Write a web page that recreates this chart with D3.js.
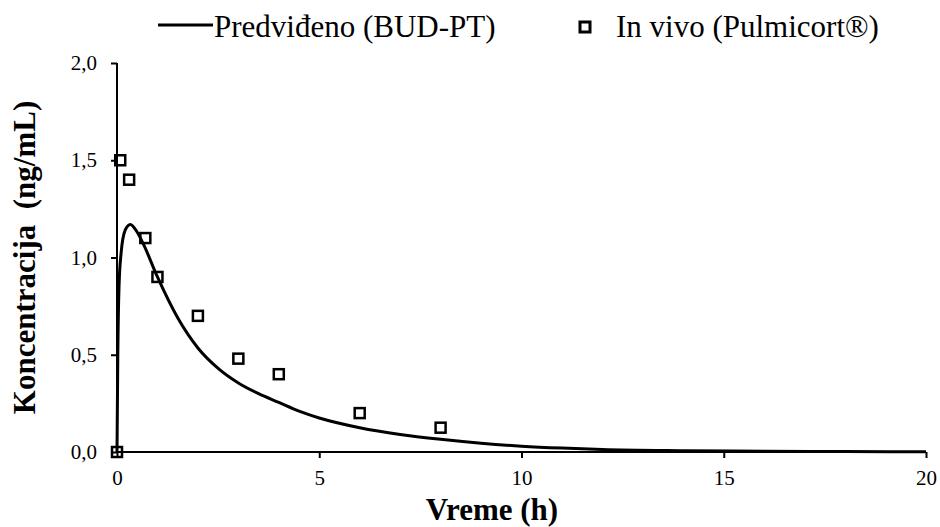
<!DOCTYPE html>
<html><head><meta charset="utf-8">
<script src="https://cdn.jsdelivr.net/npm/d3@7"></script>
<style>
html,body{margin:0;padding:0;background:#fff;font-family:'Liberation Serif',serif;}
</style></head>
<body>
<svg id="chart" width="940" height="527" style="font-family:'Liberation Serif',serif"></svg>
<script>
// Predicted curve (BUD-PT)
const curveTime = [0, 0.02, 0.05, 0.1, 0.2, 0.33, 0.5, 0.65, 1, 1.5, 2, 2.5, 3, 3.5, 4, 4.5, 5, 6, 7, 8, 9, 10, 11, 12, 14, 16, 18, 20];
const curveConc = [0, 0.5, 0.85, 1.02, 1.14, 1.17, 1.13, 1.07, 0.90, 0.69, 0.535, 0.43, 0.355, 0.30, 0.255, 0.21, 0.175, 0.125, 0.09, 0.065, 0.045, 0.03, 0.02, 0.013, 0.007, 0.004, 0.002, 0.001];
// In vivo (Pulmicort) observed points
const obsTime = [0, 0.08, 0.3, 0.7, 1, 2, 3, 4, 6, 8];
const obsConc = [0, 1.5, 1.4, 1.1, 0.9, 0.7, 0.48, 0.4, 0.2, 0.125];
// Ticks
const xTicks = [0, 5, 10, 15, 20];
const yTicks = [0, 0.5, 1.0, 1.5, 2.0];
const legendLabels = ["Predviđeno (BUD-PT)", "In vivo (Pulmicort®)"];
const xTitle = "Vreme (h)";
const yTitle = "Koncentracija  (ng/mL)";

(function () {
const FONT = "'Liberation Serif', 'DejaVu Serif', serif";
const svg = d3.select("#chart");
const mLeft = 117, mRight = 926, mTop = 63, mBottom = 452;
const x = d3.scaleLinear().domain([0, 20]).range([mLeft, mRight]);
const y = d3.scaleLinear().domain([0, 2]).range([mBottom, mTop]);

const fmt = d => d3.format(".1f")(d).replace(".", ",");

// Y axis
const yAxis = svg.append("g").attr("transform", `translate(${mLeft},0)`)
  .call(d3.axisLeft(y).tickValues(yTicks).tickFormat(fmt).tickSize(6).tickPadding(14));
// X axis
const xAxis = svg.append("g").attr("transform", `translate(0,${mBottom})`)
  .call(d3.axisBottom(x).tickValues(xTicks).tickFormat(d3.format("d")).tickSize(6).tickPadding(12));
[yAxis, xAxis].forEach(g => {
  g.attr("font-family", FONT).attr("font-size", 21);
  g.select(".domain").attr("stroke", "#000").attr("stroke-width", 2);
  g.selectAll(".tick line").attr("stroke", "#000").attr("stroke-width", 2);
  g.selectAll(".tick text").attr("fill", "#000").style("font-family", FONT).style("font-size", "21px");
});
yAxis.select(".domain").attr("d", `M0,${mBottom}V${mTop}`);
xAxis.select(".domain").attr("d", `M${mLeft},0H${mRight}`);

// Curve
const pts = curveTime.map((t, i) => [t, curveConc[i]]);
svg.append("path").datum(pts)
  .attr("fill", "none").attr("stroke", "#000").attr("stroke-width", 3)
  .attr("d", d3.line().x(d => x(d[0])).y(d => y(d[1])).curve(d3.curveMonotoneX));

// Observed squares
const sq = 10;
svg.append("g").selectAll("rect").data(obsTime.map((t, i) => [t, obsConc[i]]))
  .join("rect")
  .attr("x", d => x(d[0]) - sq / 2).attr("y", d => y(d[1]) - sq / 2)
  .attr("width", sq).attr("height", sq)
  .attr("fill", "none").attr("stroke", "#000").attr("stroke-width", 2.5);

// Axis titles
svg.append("text").attr("x", 492).attr("y", 520).attr("text-anchor", "middle")
  .style("font-family", FONT).style("font-weight", "bold").style("font-size", "31px").text(xTitle);
svg.append("text").attr("transform", `translate(35,${(mTop + mBottom) / 2}) rotate(-90)`)
  .attr("text-anchor", "middle").style("font-family", FONT).style("font-weight", "bold").style("font-size", "31px")
  .style("white-space", "pre").text(yTitle);

// Legend
svg.append("line").attr("x1", 158).attr("x2", 213).attr("y1", 25).attr("y2", 25)
  .attr("stroke", "#000").attr("stroke-width", 3);
svg.append("text").attr("x", 214).attr("y", 37).style("font-family", FONT).style("font-size", "31px").text(legendLabels[0]);
svg.append("rect").attr("x", 585 - 5).attr("y", 27 - 5).attr("width", 10).attr("height", 10)
  .attr("fill", "none").attr("stroke", "#000").attr("stroke-width", 3);
svg.append("text").attr("x", 616).attr("y", 37).style("font-family", FONT).style("font-size", "31px").text(legendLabels[1]);
})();
</script>
</body></html>
